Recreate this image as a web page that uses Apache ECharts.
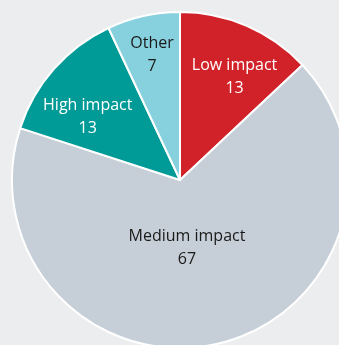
<!DOCTYPE html>
<html><head><meta charset="utf-8">
<script src="https://cdn.jsdelivr.net/npm/echarts@6/dist/echarts.min.js"></script>
<style>html,body{margin:0;padding:0;background:#ebedef;}#c{width:339px;height:345px;}</style>
</head><body><div id="c"></div>
<script>
var categories = ['Low impact', 'Medium impact', 'High impact', 'Other'];
var values = [13, 67, 13, 7];
var colors = ['#d12229', '#c6cfd7', '#009a97', '#87d1de'];
var textColors = ['#ffffff', '#1a1a1a', '#ffffff', '#1a1a1a'];
var labelOffsets = [[20, -23], [-12, -17], [-27, -6], [-9, -40]];

var chart = echarts.init(document.getElementById('c'), null, {renderer: 'canvas'});
chart.setOption({
  backgroundColor: '#ebedef',
  animation: false,
  series: [{
    type: 'pie',
    center: [180, 180],
    radius: [0, 168],
    startAngle: 90,
    clockwise: true,
    avoidLabelOverlap: false,
    labelLine: {show: false},
    itemStyle: {borderColor: '#ffffff', borderWidth: 2},
    data: categories.map(function (c, i) {
      return {
        name: c,
        value: values[i],
        itemStyle: {color: colors[i]},
        label: {
          show: true,
          position: 'inside',
          color: textColors[i],
          fontFamily: 'Open Sans',
          fontSize: 16,
          lineHeight: 23,
          offset: labelOffsets[i],
          formatter: '{b}\n{c}'
        }
      };
    })
  }]
});
</script></body></html>
